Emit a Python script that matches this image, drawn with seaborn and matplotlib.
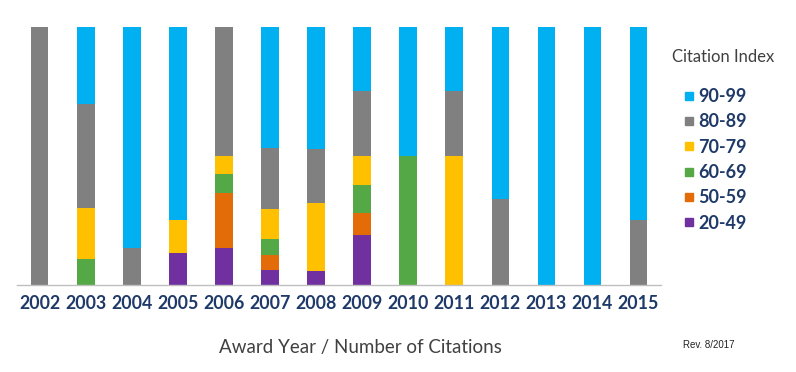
import pandas as pd
import matplotlib.pyplot as plt
import seaborn as sns
from matplotlib.lines import Line2D

years = [str(y) for y in range(2002, 2016)]
bands = ["90-99", "80-89", "70-79", "60-69", "50-59", "20-49"]  # top -> bottom
colors = {"90-99": "#00B0F0", "80-89": "#808080", "70-79": "#FFC000",
          "60-69": "#54A845", "50-59": "#E36C09", "20-49": "#7030A0"}

# share of citations per index band, percent
p20_49 = [0, 0, 0, 12.5, 14.3, 5.9, 5.3, 19.4, 0, 0, 0, 0, 0, 0]
p50_59 = [0, 0, 0, 0, 21.4, 5.9, 0, 8.3, 0, 0, 0, 0, 0, 0]
p60_69 = [0, 10, 0, 0, 7.1, 5.9, 0, 11.1, 50, 0, 0, 0, 0, 0]
p70_79 = [0, 20, 0, 12.5, 7.1, 11.8, 26.3, 11.1, 0, 50, 0, 0, 0, 0]
p80_89 = [100, 40, 14.3, 0, 50, 23.5, 21.1, 25, 0, 25, 33.3, 0, 0, 25]
p90_99 = [0, 30, 85.7, 75, 0, 47.1, 47.4, 25, 50, 25, 66.7, 100, 100, 75]

df = pd.DataFrame({"year": years, "20-49": p20_49, "50-59": p50_59,
                   "60-69": p60_69, "70-79": p70_79, "80-89": p80_89,
                   "90-99": p90_99})
vals = df[bands[::-1]]
vals = vals.div(vals.sum(axis=1), axis=0) * 100
cum = vals.cumsum(axis=1)
cum["year"] = df["year"]

sns.set_style("white")
plt.rcParams["font.family"] = ["Lato", "DejaVu Sans"]

fig = plt.figure(figsize=(7.96, 3.72), dpi=100)
ax = fig.add_axes([0.021, 0.234, 0.810, 0.694])

# overlay cumulative bars, tallest first
for b in bands:
    sns.barplot(data=cum, x="year", y=b, order=years, color=colors[b],
                width=0.38, saturation=1, linewidth=0, ax=ax)

ax.set_ylim(0, 100)
ax.set_xlim(-0.5, len(years) - 0.5)
ax.set_yticks([])
ax.set_ylabel("")
ax.set_xlabel("")
for s in ["top", "right", "left"]:
    ax.spines[s].set_visible(False)
ax.spines["bottom"].set_color("#BFBFBF")
ax.spines["bottom"].set_linewidth(1)

ax.set_xticks([i + 0.5 for i in range(-1, len(years))], minor=True)
ax.tick_params(axis="x", which="minor", length=5, color="#BFBFBF", width=1)
ax.tick_params(axis="x", which="major", length=0, pad=7)
for lab in ax.get_xticklabels():
    lab.set_fontweight("bold")
    lab.set_fontsize(12.8)
    lab.set_color("#1F3A68")

fig.text(360 / 796, 1 - 347 / 372, "Award Year / Number of Citations",
         ha="center", va="center", fontsize=13.5, color="#404040")
fig.text(683 / 796, 1 - 345 / 372, "Rev. 8/2017", ha="left", va="center",
         fontsize=7, color="#222222", family=["Liberation Sans", "DejaVu Sans"])
fig.text(723 / 796, 1 - 57 / 372, "Citation Index", ha="center", va="center",
         fontsize=12, color="#404040")

handles = [Line2D([], [], marker="s", linestyle="", markersize=6,
                  color=colors[b]) for b in bands]
leg = fig.legend(handles, bands, loc="upper left",
                 bbox_to_anchor=(684 / 796, 1 - 88 / 372), frameon=False,
                 handlelength=0.6, handletextpad=0.2, labelspacing=0.46,
                 borderaxespad=0, borderpad=0,
                 prop={"weight": "bold", "size": 13})
for t in leg.get_texts():
    t.set_color("#1F3A68")

fig.savefig("out.png", dpi=100)
